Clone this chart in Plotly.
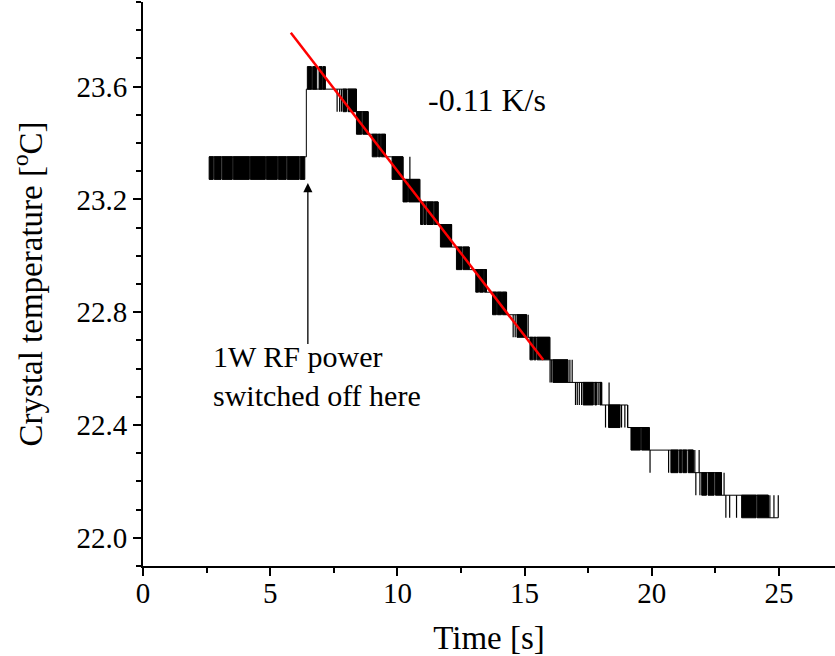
import plotly.graph_objects as go

# Quantised temperature levels of the sensor read-out [°C]
LEVELS = [23.671, 23.591, 23.511, 23.431, 23.351, 23.271, 23.191, 23.111, 23.031,
          22.951, 22.871, 22.791, 22.711, 22.631, 22.551, 22.471, 22.391, 22.311,
          22.231, 22.151, 22.071]

# Flicker blocks: index of upper level (lower level is the next one) and the
# time intervals [s] during which the signal toggles rapidly between them
BLOCK_HI = [4, 0, 1, 2, 3, 4, 5, 6, 7, 8, 9, 10, 11, 12, 13, 14, 15, 16, 17, 18, 19]
BLOCK_DARK = [
    [[2.60, 2.76], [2.80, 3.07], [3.11, 3.51], [3.55, 4.18], [4.22, 4.81],
     [4.85, 5.28], [5.32, 5.63], [5.67, 6.14], [6.18, 6.36]],
    [[6.46, 6.62], [6.67, 6.83], [6.92, 7.04], [7.07, 7.17]],
    [[7.86, 8.00], [8.06, 8.39]],
    [[8.39, 8.60], [8.64, 8.85]],
    [[9.01, 9.21], [9.25, 9.33], [9.37, 9.53]],
    [[9.79, 10.22]],
    [[10.22, 10.40], [10.44, 10.88]],
    [[10.91, 11.00], [11.04, 11.12], [11.16, 11.41], [11.45, 11.60]],
    [[11.69, 12.13]],
    [[12.32, 12.54], [12.58, 12.82]],
    [[13.08, 13.19], [13.23, 13.38], [13.42, 13.50]],
    [[13.74, 13.89], [13.93, 14.09], [14.13, 14.29]],
    [[14.70, 15.08]],
    [[15.21, 15.32], [15.36, 15.45], [15.49, 15.99]],
    [[16.11, 16.70]],
    [[17.30, 17.70], [17.76, 17.83], [17.96, 18.03]],
    [[18.30, 18.75]],
    [[19.18, 19.55], [19.60, 19.90]],
    [[20.75, 21.03], [21.08, 21.18], [21.22, 21.37], [21.43, 21.63]],
    [[21.96, 22.15], [22.21, 22.45], [22.50, 22.74]],
    [[23.53, 24.10], [24.14, 24.58]],
]

# Isolated single toggles: time [s] and upper level index
SPIKE_T = [7.63, 7.73, 7.80, 10.49, 14.55, 14.63, 15.14, 16.00, 16.05, 16.78, 16.87,
           17.00, 17.07, 17.15, 17.24, 17.89, 18.32, 18.18, 18.81, 18.94, 19.05,
           19.93, 20.66, 21.69, 21.86, 21.73, 21.89, 22.84,
           22.91, 23.06, 23.33, 24.64, 24.80, 24.97]
SPIKE_HI = [1, 1, 1, 4, 11, 11, 11, 13, 13, 13, 13,
            14, 14, 14, 14, 14, 14, 15, 15, 15, 15,
            17, 17, 17, 17, 18, 18, 18,
            19, 19, 19, 19, 19, 19]

# Resting level of the signal between flicker blocks (step path)
REST_T = [2.60, 6.42, 8.39, 8.85, 9.53, 10.22, 10.88, 11.60, 12.13, 12.82, 13.50,
          14.29, 15.08, 15.99, 16.70, 18.03, 19.05, 19.90, 21.63, 22.74, 24.58, 24.97]
REST_LEVEL = [4, 1, 2, 3, 4, 5, 6, 7, 8, 9, 10, 11, 12, 13, 14, 15, 16, 17, 18, 19, 20, 20]

# Linear fit (-0.11 K/s)
FIT_T = [5.81, 15.73]
FIT_V = [23.791, 22.631]

FONT = "Liberation Serif, Times New Roman, Times, serif"

fig = go.Figure()

# rest path
fig.add_trace(go.Scatter(
    x=REST_T, y=[LEVELS[i] for i in REST_LEVEL], mode="lines",
    line=dict(color="black", width=1, shape="hv"), hoverinfo="skip"))

# flicker blocks
bx, by = [], []
for hi, dark in zip(BLOCK_HI, BLOCK_DARK):
    top, bot = LEVELS[hi], LEVELS[hi + 1]
    for t0, t1 in dark:
        bx += [t0, t0, t1, t1, t0, None]
        by += [top, bot, bot, top, top, None]
fig.add_trace(go.Scatter(
    x=bx, y=by, mode="lines", fill="toself", fillcolor="black",
    line=dict(color="black", width=1), hoverinfo="skip"))

# single spikes
sx, sy = [], []
for t, hi in zip(SPIKE_T, SPIKE_HI):
    sx += [t, t, None]
    sy += [LEVELS[hi], LEVELS[hi + 1], None]
fig.add_trace(go.Scatter(
    x=sx, y=sy, mode="lines", line=dict(color="black", width=1.2), hoverinfo="skip"))

# fit line
fig.add_trace(go.Scatter(
    x=FIT_T, y=FIT_V, mode="lines", line=dict(color="#ff0000", width=2.5),
    hoverinfo="skip"))

fig.add_annotation(x=13.52, y=23.553, text="-0.11 K/s", showarrow=False,
                   font=dict(family=FONT, size=32, color="black"))
fig.add_annotation(x=2.69, y=22.575, xanchor="left", align="left",
                   text="1W RF power<br>switched off here", showarrow=False,
                   font=dict(family=FONT, size=30, color="black"))
fig.add_annotation(x=6.48, y=23.258, ax=6.48, ay=22.682, axref="x", ayref="y",
                   xref="x", yref="y", text="", showarrow=True,
                   arrowhead=2, arrowsize=1.4, arrowwidth=1.3, arrowcolor="black")

axis_common = dict(
    showline=True, linecolor="black", linewidth=2, mirror=False,
    ticks="outside", ticklen=8, tickwidth=2, tickcolor="black",
    showgrid=False, zeroline=False,
    tickfont=dict(family=FONT, size=29, color="black"),
)

fig.update_xaxes(**axis_common, range=[0, 27.2], tick0=0, dtick=5,
                 ticklabelstandoff=-8,
                 minor=dict(ticks="outside", dtick=2.5, ticklen=5, tickwidth=2,
                            tickcolor="black", showgrid=False),
                 title=dict(text="Time [s]", font=dict(family=FONT, size=33, color="black"),
                            standoff=21))
fig.update_yaxes(**axis_common, range=[21.9, 23.9], tick0=22.0, dtick=0.4,
                 tickformat=".1f",
                 minor=dict(ticks="outside", dtick=0.1, ticklen=5, tickwidth=2,
                            tickcolor="black", showgrid=False),
                 title=dict(text="Crystal temperature [<sup>o</sup>C]",
                            font=dict(family=FONT, size=33, color="black"), standoff=24))

fig.update_layout(
    width=835, height=656, showlegend=False,
    margin=dict(l=143, r=0, t=2, b=90),
    plot_bgcolor="white", paper_bgcolor="white",
)

fig.write_html("out.html")
